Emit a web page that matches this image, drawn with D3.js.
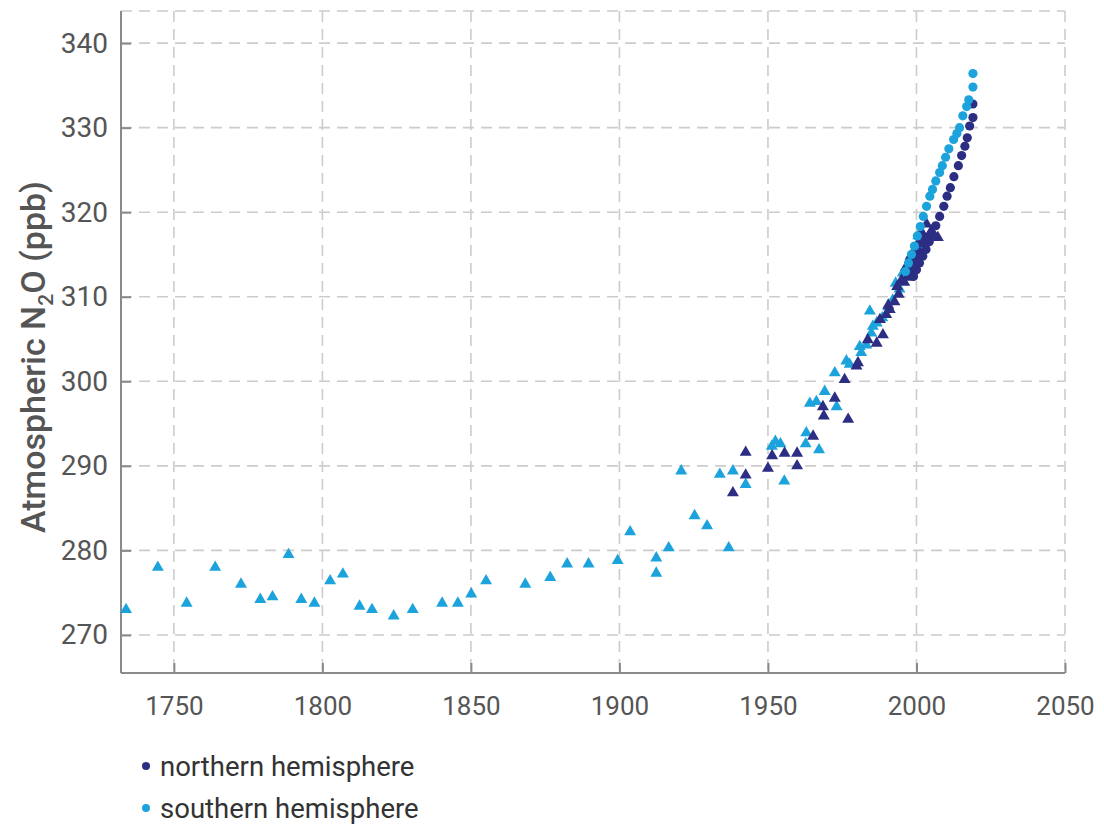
<!DOCTYPE html>
<html>
<head>
<meta charset="utf-8">
<script src="https://cdn.jsdelivr.net/npm/d3@7"></script>
<style>
  html, body { margin: 0; padding: 0; background: #fff; }
  svg { display: block; font-family: Roboto, "Noto Sans", sans-serif; }
</style>
</head>
<body>
<svg id="chart" width="1104" height="827"></svg>
<script>
// ---- Data ----
const xTicks = [1750, 1800, 1850, 1900, 1950, 2000, 2050];
const yTicks = [270, 280, 290, 300, 310, 320, 330, 340];

// southern hemisphere, triangles (ice core / firn)
const southTriYears = [1733.9,1744.6,1754.3,1763.9,1772.6,1779.1,1783.2,1788.6,1792.9,1797.3,1802.6,1806.9,1812.5,1816.7,1824.0,1830.4,1840.3,1845.6,1850.1,1855.1,1868.3,1876.7,1882.4,1889.6,1899.4,1903.6,1912.4,1912.4,1916.6,1920.8,1925.3,1929.5,1933.8,1938.2,1936.8,1942.5,1951.3,1952.5,1954.2,1955.5,1962.9,1962.7,1967.2,1964.1,1966.3,1969.1,1973.1,1972.5,1976.4,1977.5,1980.9,1981.4,1983.1,1984.8,1985.3,1986.6,1984.3,1988.5,1990.5,1992.0,1994.3,1995.4,1996.5,1998.0,1999.3,2000.6,2001.5,1993.0];
const southTriVals  = [273.0,278.0,273.75,278.0,276.0,274.2,274.5,279.5,274.2,273.75,276.4,277.2,273.4,273.0,272.25,273.0,273.75,273.75,274.85,276.4,276.0,276.8,278.4,278.4,278.8,282.2,277.3,279.1,280.3,289.4,284.1,282.9,289.0,289.4,280.3,287.8,292.3,292.9,292.6,288.2,293.9,292.6,291.9,297.4,297.6,298.8,297.0,301.0,302.4,302.0,304.1,303.4,304.3,305.7,306.5,306.9,308.3,307.5,308.8,309.6,310.9,312.8,313.5,314.3,315.3,317.2,316.0,311.6];

// northern hemisphere, triangles
const northTriYears = [1938.2,1942.5,1942.5,1950.0,1951.4,1955.6,1959.8,1959.8,1965.2,1968.5,1968.8,1972.5,1977.0,1975.8,1980.3,1979.8,1983.6,1986.6,1988.7,1987.7,1989.8,1991.0,1992.6,1994.0,1995.9,1997.0,1998.5,1999.0,2000.0,2001.2,2001.8,2002.4,2003.4,2007.2,2004.0,1990.5,1993.5,1995.0,1996.5,1998.0,1999.5,2000.5,2002.0,2003.0,2005.0];
const northTriVals  = [286.8,288.9,291.6,289.7,291.2,291.5,291.5,290.0,293.5,297.0,295.9,298.0,295.5,300.2,302.2,301.8,304.9,304.5,305.5,307.3,307.9,308.5,309.4,310.3,311.7,312.3,313.0,314.0,314.6,315.2,317.6,316.4,318.6,317.0,317.0,309.0,311.2,312.0,313.5,314.8,315.5,316.3,317.0,316.8,317.8];

// southern hemisphere, circles (atmospheric measurements)
const southCircYears = [1996.3,1997.3,1998.3,1999.3,2000.3,2001.3,2002.3,2003.4,2004.5,2005.4,2006.5,2007.8,2008.7,2009.8,2010.9,2012.5,2013.6,2014.5,2015.6,2016.9,2017.6,2019.0,2019.0];
const southCircVals  = [313.0,314.0,315.0,316.0,317.2,318.3,319.5,320.7,321.9,322.7,323.7,324.7,325.5,326.5,327.5,328.6,329.3,330.0,331.4,332.5,333.3,334.8,336.4];

// northern hemisphere, circles
const northCircYears = [1999.0,2000.0,2001.0,2002.1,2003.2,2004.3,2005.4,2006.5,2007.8,2009.2,2010.3,2011.4,2012.6,2014.1,2015.2,2016.3,2017.1,2017.9,2019.0,2019.0];
const northCircVals  = [312.4,313.2,314.0,314.8,315.6,316.5,317.4,318.4,319.5,320.7,321.9,322.9,324.2,325.5,326.7,327.8,328.8,330.2,331.2,332.8];

const seriesNames = ["northern hemisphere", "southern hemisphere"];
const seriesColors = ["#2b2e83", "#1da3dc"];

// ---- Layout ----
const svg = d3.select("#chart");
const margin = {left: 121, right: 39, top: 11, bottom: 154};
const W = 1104, H = 827;
const x = d3.scaleLinear().domain([1732.2, 2050]).range([margin.left, W - margin.right]);
const y = d3.scaleLinear().domain([265.5, 343.8]).range([H - margin.bottom, margin.top]);

const gridColor = "#cccccc";
const axisColor = "#8a8a8a";

// grid lines
const grid = svg.append("g");
grid.selectAll(".vg").data(xTicks).join("line")
  .attr("x1", d => x(d)).attr("x2", d => x(d))
  .attr("y1", y.range()[1]).attr("y2", y.range()[0])
  .attr("stroke", gridColor).attr("stroke-width", 1.6).attr("stroke-dasharray", "11,7");
grid.selectAll(".hg").data(yTicks).join("line")
  .attr("x1", x.range()[0]).attr("x2", x.range()[1])
  .attr("y1", d => y(d)).attr("y2", d => y(d))
  .attr("stroke", gridColor).attr("stroke-width", 1.6).attr("stroke-dasharray", "11,7");
// top border (dashed)
grid.append("line")
  .attr("x1", x.range()[0]).attr("x2", x.range()[1])
  .attr("y1", y.range()[1]).attr("y2", y.range()[1])
  .attr("stroke", gridColor).attr("stroke-width", 1.6).attr("stroke-dasharray", "11,7");

// axes
const xAxis = d3.axisBottom(x).tickValues(xTicks).tickFormat(d3.format("d")).tickSize(-10).tickPadding(24);
const yAxis = d3.axisLeft(y).tickValues(yTicks).tickFormat(d3.format("d")).tickSize(-10).tickPadding(13);

const gx = svg.append("g").attr("transform", `translate(0,${H - margin.bottom})`).call(xAxis);
const gy = svg.append("g").attr("transform", `translate(${margin.left},0)`).call(yAxis);
[gx, gy].forEach(g => {
  g.select(".domain").attr("stroke", axisColor).attr("stroke-width", 2);
  g.selectAll(".tick line").attr("stroke", axisColor).attr("stroke-width", 2);
  g.selectAll(".tick text").attr("fill", "#555").attr("font-family", "Roboto, sans-serif");
});
gx.selectAll(".tick text").attr("font-size", 26);
gy.selectAll(".tick text").attr("font-size", 28);
gx.select(".domain").attr("d", `M${x.range()[0]},0H${x.range()[1]}`);
gy.select(".domain").attr("d", `M0,${y.range()[1]}V${y.range()[0]}`);

// y axis title
const title = svg.append("text")
  .attr("transform", `translate(45,357) rotate(-90)`)
  .attr("text-anchor", "middle")
  .attr("fill", "#555")
  .attr("font-size", 34)
  .attr("font-weight", 500)
  .attr("font-family", "Roboto, sans-serif");
title.append("tspan").text("Atmospheric N");
title.append("tspan").attr("font-size", 21).attr("dy", 8).text("2");
title.append("tspan").attr("dy", -8).text("O (ppb)");

// marks
const tri = d3.symbol().type(d3.symbolTriangle).size(62);
function triangles(years, vals, color) {
  svg.append("g").selectAll("path").data(years.map((yr, i) => [yr, vals[i]])).join("path")
    .attr("d", tri)
    .attr("transform", d => `translate(${x(d[0])},${y(d[1])})`)
    .attr("fill", color);
}
function circles(years, vals, color) {
  svg.append("g").selectAll("circle").data(years.map((yr, i) => [yr, vals[i]])).join("circle")
    .attr("cx", d => x(d[0])).attr("cy", d => y(d[1])).attr("r", 4.6)
    .attr("fill", color);
}
triangles(southTriYears, southTriVals, seriesColors[1]);
triangles(northTriYears, northTriVals, seriesColors[0]);
circles(northCircYears, northCircVals, seriesColors[0]);
circles(southCircYears, southCircVals, seriesColors[1]);

// legend
const legend = svg.append("g").attr("transform", "translate(146,766)");
seriesNames.forEach((name, i) => {
  const g = legend.append("g").attr("transform", `translate(0,${i * 42})`);
  g.append("circle").attr("r", 4).attr("fill", seriesColors[i]);
  g.append("text").attr("x", 14).attr("dy", "0.35em")
    .attr("fill", "#333").attr("font-size", 27.5).attr("font-family", "Roboto, sans-serif")
    .text(name);
});
</script>
</body>
</html>
